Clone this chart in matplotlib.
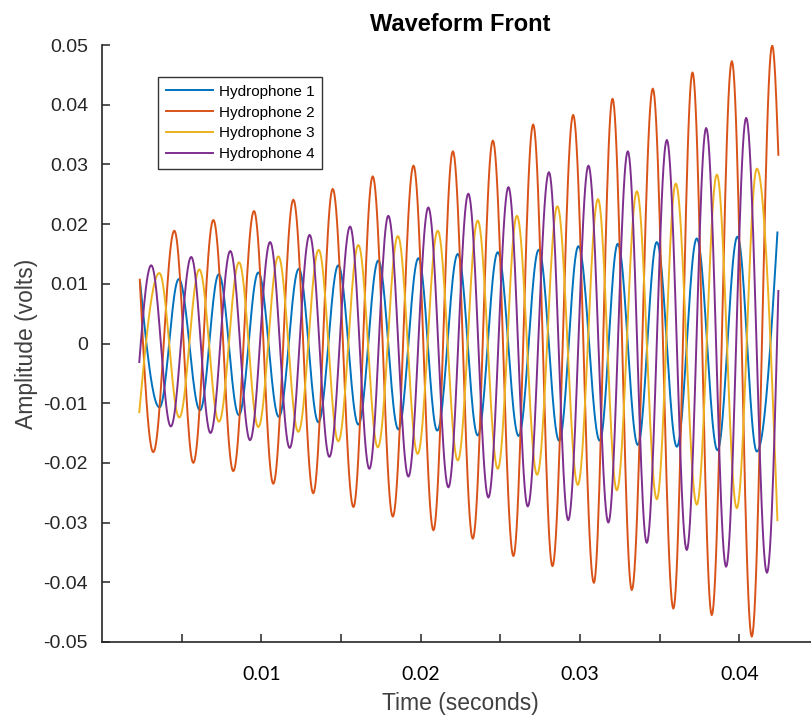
import numpy as np
import matplotlib
matplotlib.use("Agg")
import matplotlib.pyplot as plt
from matplotlib.ticker import FixedLocator, FixedFormatter

# ---- data: extrema (time [s], amplitude [V]) incl. first/last samples ----
h1_t = [0.00239, 0.00361, 0.00482, 0.00615, 0.00733, 0.00859, 0.00981, 0.01110, 0.01235, 0.01358,
        0.01483, 0.01609, 0.01734, 0.01860, 0.01986, 0.02104, 0.02233, 0.02358, 0.02484, 0.02615,
        0.02741, 0.02869, 0.02990, 0.03124, 0.03237, 0.03363, 0.03482, 0.03608, 0.03733, 0.03863,
        0.03988, 0.04110, 0.04239]
h1_v = [0.0103, -0.0107, 0.0108, -0.0112, 0.0116, -0.0120, 0.0119, -0.0123, 0.0125, -0.0132,
        0.0131, -0.0136, 0.0139, -0.0144, 0.0143, -0.0146, 0.0150, -0.0154, 0.0153, -0.0155,
        0.0157, -0.0163, 0.0163, -0.0163, 0.0167, -0.0170, 0.0170, -0.0173, 0.0176, -0.0179,
        0.0179, -0.0181, 0.0186]

h2_t = [0.00237, 0.00322, 0.00454, 0.00573, 0.00699, 0.00824, 0.00954, 0.01075, 0.01201, 0.01326,
        0.01448, 0.01578, 0.01699, 0.01825, 0.01955, 0.02080, 0.02202, 0.02327, 0.02453, 0.02582,
        0.02706, 0.02827, 0.02957, 0.03087, 0.03204, 0.03325, 0.03457, 0.03586, 0.03706, 0.03827,
        0.03953, 0.04078, 0.04206, 0.04245]
h2_v = [0.0107, -0.0182, 0.0189, -0.0200, 0.0207, -0.0214, 0.0222, -0.0235, 0.0241, -0.0251,
        0.0259, -0.0274, 0.0280, -0.0290, 0.0298, -0.0313, 0.0322, -0.0327, 0.0340, -0.0356,
        0.0367, -0.0373, 0.0383, -0.0401, 0.0410, -0.0413, 0.0427, -0.0444, 0.0454, -0.0455,
        0.0473, -0.0491, 0.0499, 0.0316]

h3_t = [0.00234, 0.00360, 0.00485, 0.00611, 0.00734, 0.00860, 0.00981, 0.01107, 0.01232, 0.01360,
        0.01483, 0.01609, 0.01731, 0.01857, 0.01981, 0.02107, 0.02233, 0.02358, 0.02484, 0.02604,
        0.02731, 0.02858, 0.02986, 0.03113, 0.03231, 0.03357, 0.03482, 0.03601, 0.03733, 0.03859,
        0.03984, 0.04110, 0.04239]
h3_v = [-0.0115, 0.0118, -0.0124, 0.0124, -0.0131, 0.0136, -0.0140, 0.0146, -0.0148, 0.0157,
        -0.0164, 0.0165, -0.0174, 0.0180, -0.0185, 0.0189, -0.0196, 0.0206, -0.0210, 0.0214,
        -0.0220, 0.0230, -0.0237, 0.0242, -0.0246, 0.0255, -0.0261, 0.0268, -0.0270, 0.0283,
        -0.0276, 0.0293, -0.0296]

h4_t = [0.00234, 0.00309, 0.00432, 0.00560, 0.00681, 0.00805, 0.00929, 0.01055, 0.01178, 0.01303,
        0.01427, 0.01557, 0.01678, 0.01797, 0.01923, 0.02048, 0.02174, 0.02299, 0.02425, 0.02551,
        0.02672, 0.02805, 0.02926, 0.03053, 0.03178, 0.03300, 0.03419, 0.03545, 0.03670, 0.03792,
        0.03917, 0.04043, 0.04173, 0.04245]
h4_v = [-0.0031, 0.0131, -0.0139, 0.0145, -0.0150, 0.0155, -0.0162, 0.0170, -0.0175, 0.0182,
        -0.0190, 0.0196, -0.0210, 0.0214, -0.0223, 0.0228, -0.0241, 0.0251, -0.0258, 0.0262,
        -0.0273, 0.0287, -0.0296, 0.0298, -0.0300, 0.0322, -0.0334, 0.0341, -0.0346, 0.0361,
        -0.0374, 0.0378, -0.0384, 0.0088]

series_names = ["Hydrophone 1", "Hydrophone 2", "Hydrophone 3", "Hydrophone 4"]
colors = ["#0072BD", "#D95319", "#EDB120", "#7E2F8E"]

x_ticks = [0.005, 0.010, 0.015, 0.020, 0.025, 0.030, 0.035, 0.040]
x_labels = ["", "0.01", "", "0.02", "", "0.03", "", "0.04"]
y_ticks = [-0.05, -0.04, -0.03, -0.02, -0.01, 0.0, 0.01, 0.02, 0.03, 0.04, 0.05]
y_labels = ["-0.05", "-0.04", "-0.03", "-0.02", "-0.01", "0", "0.01", "0.02", "0.03", "0.04", "0.05"]


def trace(ts, vs, n=24):
    """Smooth waveform through read extrema (zero slope at interior extrema)."""
    xs, ys = [], []
    m = len(ts)
    for i in range(m - 1):
        u = np.linspace(0, 1, n, endpoint=False)
        a, b = vs[i], vs[i + 1]
        if i == 0:
            w = np.sin(np.pi / 2 * u)
        elif i == m - 2:
            w = 1 - np.cos(np.pi / 2 * u)
        else:
            w = (1 - np.cos(np.pi * u)) / 2
        xs.append(ts[i] + (ts[i + 1] - ts[i]) * u)
        ys.append(a + (b - a) * w)
    xs.append([ts[-1]])
    ys.append([vs[-1]])
    return np.concatenate(xs), np.concatenate(ys)


fig = plt.figure(figsize=(8.11, 7.17), dpi=100)
ax = fig.add_axes([102 / 811, 75 / 717, 717 / 811, 597 / 717])

for (ts, vs), name, c in zip([(h1_t, h1_v), (h2_t, h2_v), (h3_t, h3_v), (h4_t, h4_v)],
                             series_names, colors):
    x, y = trace(ts, vs)
    ax.plot(x, y, color=c, lw=1.4, label=name)

ax.set_xlim(0, 0.045)
ax.set_ylim(-0.05, 0.05)

for s in ["top", "right"]:
    ax.spines[s].set_visible(False)
for s in ["left", "bottom"]:
    ax.spines[s].set_color("#262626")
    ax.spines[s].set_linewidth(1.2)

ax.xaxis.set_major_locator(FixedLocator(x_ticks))
ax.xaxis.set_major_formatter(FixedFormatter(x_labels))
ax.yaxis.set_major_locator(FixedLocator(y_ticks))
ax.yaxis.set_major_formatter(FixedFormatter(y_labels))
ax.tick_params(axis="both", direction="in", length=6, width=1.1, color="#262626")
ax.tick_params(axis="x", pad=17)
ax.tick_params(axis="y", pad=10)
for lbl in ax.get_xticklabels():
    lbl.set_fontfamily("Lato")
    lbl.set_fontsize(14)
    lbl.set_color("black")
for lbl in ax.get_yticklabels():
    lbl.set_fontfamily("Liberation Sans")
    lbl.set_fontsize(14)
    lbl.set_color("#262626")

ax.set_xlabel("Time (seconds)", fontsize=16.5, family="Liberation Sans", color="#404040", labelpad=7)
ax.set_ylabel("Amplitude (volts)", fontsize=16.5, family="Liberation Sans", color="#404040", labelpad=4)
ax.set_title("Waveform Front", fontsize=17, family="Liberation Sans", fontweight="bold", pad=10)

leg = ax.legend(loc="upper left", bbox_to_anchor=(56 / 717, (642 - 77) / 597),
                prop={"family": "Liberation Sans", "size": 11}, frameon=True, fancybox=False,
                edgecolor="black", handlelength=3.1, handletextpad=0.4, borderpad=0.5,
                labelspacing=0.45, borderaxespad=0)
leg.get_frame().set_linewidth(1.0)

fig.savefig("out.png", dpi=100)
